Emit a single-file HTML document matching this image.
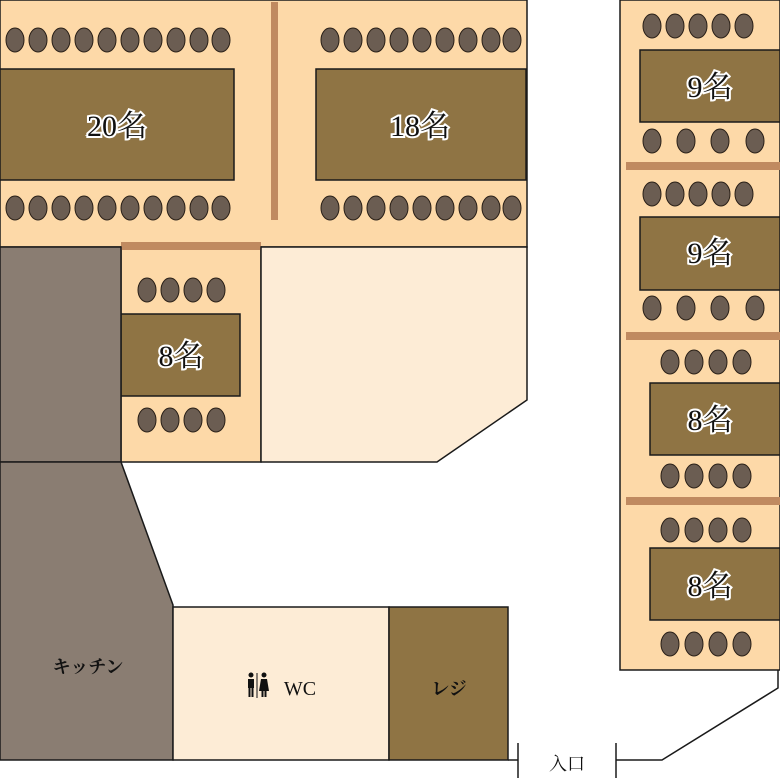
<!DOCTYPE html><html><head><meta charset="utf-8"><style>body{margin:0;background:#fff}svg{display:block}text{font-family:"Liberation Serif","Noto Serif CJK SC",serif}</style></head><body>
<svg width="780" height="780" viewBox="0 0 780 780" xmlns="http://www.w3.org/2000/svg">
<defs><style>.c{fill:#6b5d52;stroke:#2a2018;stroke-width:1}.t{fill:#8f7444;stroke:#1a1a1a;stroke-width:1.5}.lbl{font-size:30px;fill:#111;stroke:#fff;stroke-width:4;paint-order:stroke;text-anchor:middle}.s{stroke:#1a1a1a;stroke-width:1.5}</style></defs>
<rect x="0" y="0" width="527" height="247" fill="#fdd9a8" class="s"/>
<rect x="271" y="2" width="7" height="218" fill="#c08a60"/>
<rect x="0" y="69" width="234" height="111" class="t"/>
<rect x="316" y="69" width="210" height="111" class="t"/>
<g id="r1">
<ellipse cx="15" cy="40" rx="9" ry="12" class="c"/><ellipse cx="38" cy="40" rx="9" ry="12" class="c"/><ellipse cx="61" cy="40" rx="9" ry="12" class="c"/><ellipse cx="84" cy="40" rx="9" ry="12" class="c"/><ellipse cx="107" cy="40" rx="9" ry="12" class="c"/><ellipse cx="130" cy="40" rx="9" ry="12" class="c"/><ellipse cx="153" cy="40" rx="9" ry="12" class="c"/><ellipse cx="176" cy="40" rx="9" ry="12" class="c"/><ellipse cx="199" cy="40" rx="9" ry="12" class="c"/><ellipse cx="221" cy="40" rx="9" ry="12" class="c"/>
</g>
<use href="#r1" y="168"/>
<g id="r9">
<ellipse cx="330" cy="40" rx="9" ry="12" class="c"/><ellipse cx="353" cy="40" rx="9" ry="12" class="c"/><ellipse cx="376" cy="40" rx="9" ry="12" class="c"/><ellipse cx="399" cy="40" rx="9" ry="12" class="c"/><ellipse cx="422" cy="40" rx="9" ry="12" class="c"/><ellipse cx="445" cy="40" rx="9" ry="12" class="c"/><ellipse cx="468" cy="40" rx="9" ry="12" class="c"/><ellipse cx="491" cy="40" rx="9" ry="12" class="c"/><ellipse cx="512" cy="40" rx="9" ry="12" class="c"/>
</g>
<use href="#r9" y="168"/>
<text x="117" y="136" class="lbl">20名</text>
<text x="420" y="136" class="lbl">18名</text>
<rect x="121" y="247" width="140" height="215" fill="#fdd9a8" class="s"/>
<rect x="121" y="242" width="140" height="8" fill="#c08a60"/>
<rect x="121" y="314" width="119" height="82" class="t"/>
<g id="r4"><ellipse cx="147" cy="290" rx="9" ry="12" class="c"/><ellipse cx="170" cy="290" rx="9" ry="12" class="c"/><ellipse cx="193" cy="290" rx="9" ry="12" class="c"/><ellipse cx="216" cy="290" rx="9" ry="12" class="c"/></g>
<use href="#r4" y="130"/>
<text x="181" y="366" class="lbl">8名</text>
<polygon points="261,247 527,247 527,400 437,462 261,462" fill="#fdecd6" class="s"/>
<rect x="0" y="247" width="121" height="215" fill="#8a7d72" class="s"/>
<polygon points="0,462 121,462 173,605 173,760 0,760" fill="#8a7d72" class="s"/>
<text x="88" y="673" font-size="18" font-weight="bold" text-anchor="middle" fill="#111" font-family="Liberation Sans,Noto Sans CJK JP,sans-serif">キッチン</text>
<rect x="173" y="607" width="216" height="153" fill="#fdecd6" class="s"/>
<g fill="#111"><circle cx="251" cy="675" r="2.5"/><rect x="248" y="679" width="6" height="9"/><rect x="248.5" y="687" width="2" height="10"/><rect x="251.5" y="687" width="2" height="10"/><circle cx="264" cy="675" r="2.5"/><polygon points="261,679 267,679 269,691 259,691"/><rect x="261.5" y="690" width="2" height="7"/><rect x="264.5" y="690" width="2" height="7"/><rect x="256.5" y="673" width="1" height="25"/></g>
<text x="300" y="695" font-size="20" text-anchor="middle" fill="#111">WC</text>
<rect x="389" y="607" width="119" height="153" class="t"/>
<text x="449" y="695" font-size="18" font-weight="bold" text-anchor="middle" fill="#111" font-family="Liberation Sans,Noto Sans CJK JP,sans-serif">レジ</text>
<rect x="620" y="0" width="160" height="670" fill="#fdd9a8" class="s"/>
<rect x="626" y="162" width="154" height="8" fill="#c08a60"/>
<rect x="626" y="332" width="154" height="8" fill="#c08a60"/>
<rect x="626" y="497" width="154" height="8" fill="#c08a60"/>
<rect x="640" y="50" width="140" height="72" class="t"/>
<rect x="640" y="217" width="140" height="73" class="t"/>
<rect x="650" y="383" width="130" height="72" class="t"/>
<rect x="650" y="548" width="130" height="72" class="t"/>
<g id="r5"><ellipse cx="652" cy="26" rx="9" ry="12" class="c"/><ellipse cx="675" cy="26" rx="9" ry="12" class="c"/><ellipse cx="698" cy="26" rx="9" ry="12" class="c"/><ellipse cx="721" cy="26" rx="9" ry="12" class="c"/><ellipse cx="744" cy="26" rx="9" ry="12" class="c"/></g>
<use href="#r5" y="168"/>
<g id="rb"><ellipse cx="652" cy="141" rx="9" ry="12" class="c"/><ellipse cx="686" cy="141" rx="9" ry="12" class="c"/><ellipse cx="720" cy="141" rx="9" ry="12" class="c"/><ellipse cx="755" cy="141" rx="9" ry="12" class="c"/></g>
<use href="#rb" y="167"/>
<g id="r8"><ellipse cx="670" cy="362" rx="9" ry="12" class="c"/><ellipse cx="694" cy="362" rx="9" ry="12" class="c"/><ellipse cx="718" cy="362" rx="9" ry="12" class="c"/><ellipse cx="742" cy="362" rx="9" ry="12" class="c"/></g>
<use href="#r8" y="114"/><use href="#r8" y="168"/><use href="#r8" y="282"/>
<text x="710" y="97" class="lbl">9名</text>
<text x="710" y="263" class="lbl">9名</text>
<text x="710" y="430" class="lbl">8名</text>
<text x="710" y="596" class="lbl">8名</text>
<g class="s" fill="none"><polyline points="508,760 518,760"/><line x1="518" y1="743" x2="518" y2="778"/><line x1="616" y1="743" x2="616" y2="778"/><polyline points="616,760 662,760 778,688 778,670"/></g>
<text x="567" y="770" font-size="18" text-anchor="middle" fill="#111">入口</text>
</svg></body></html>
